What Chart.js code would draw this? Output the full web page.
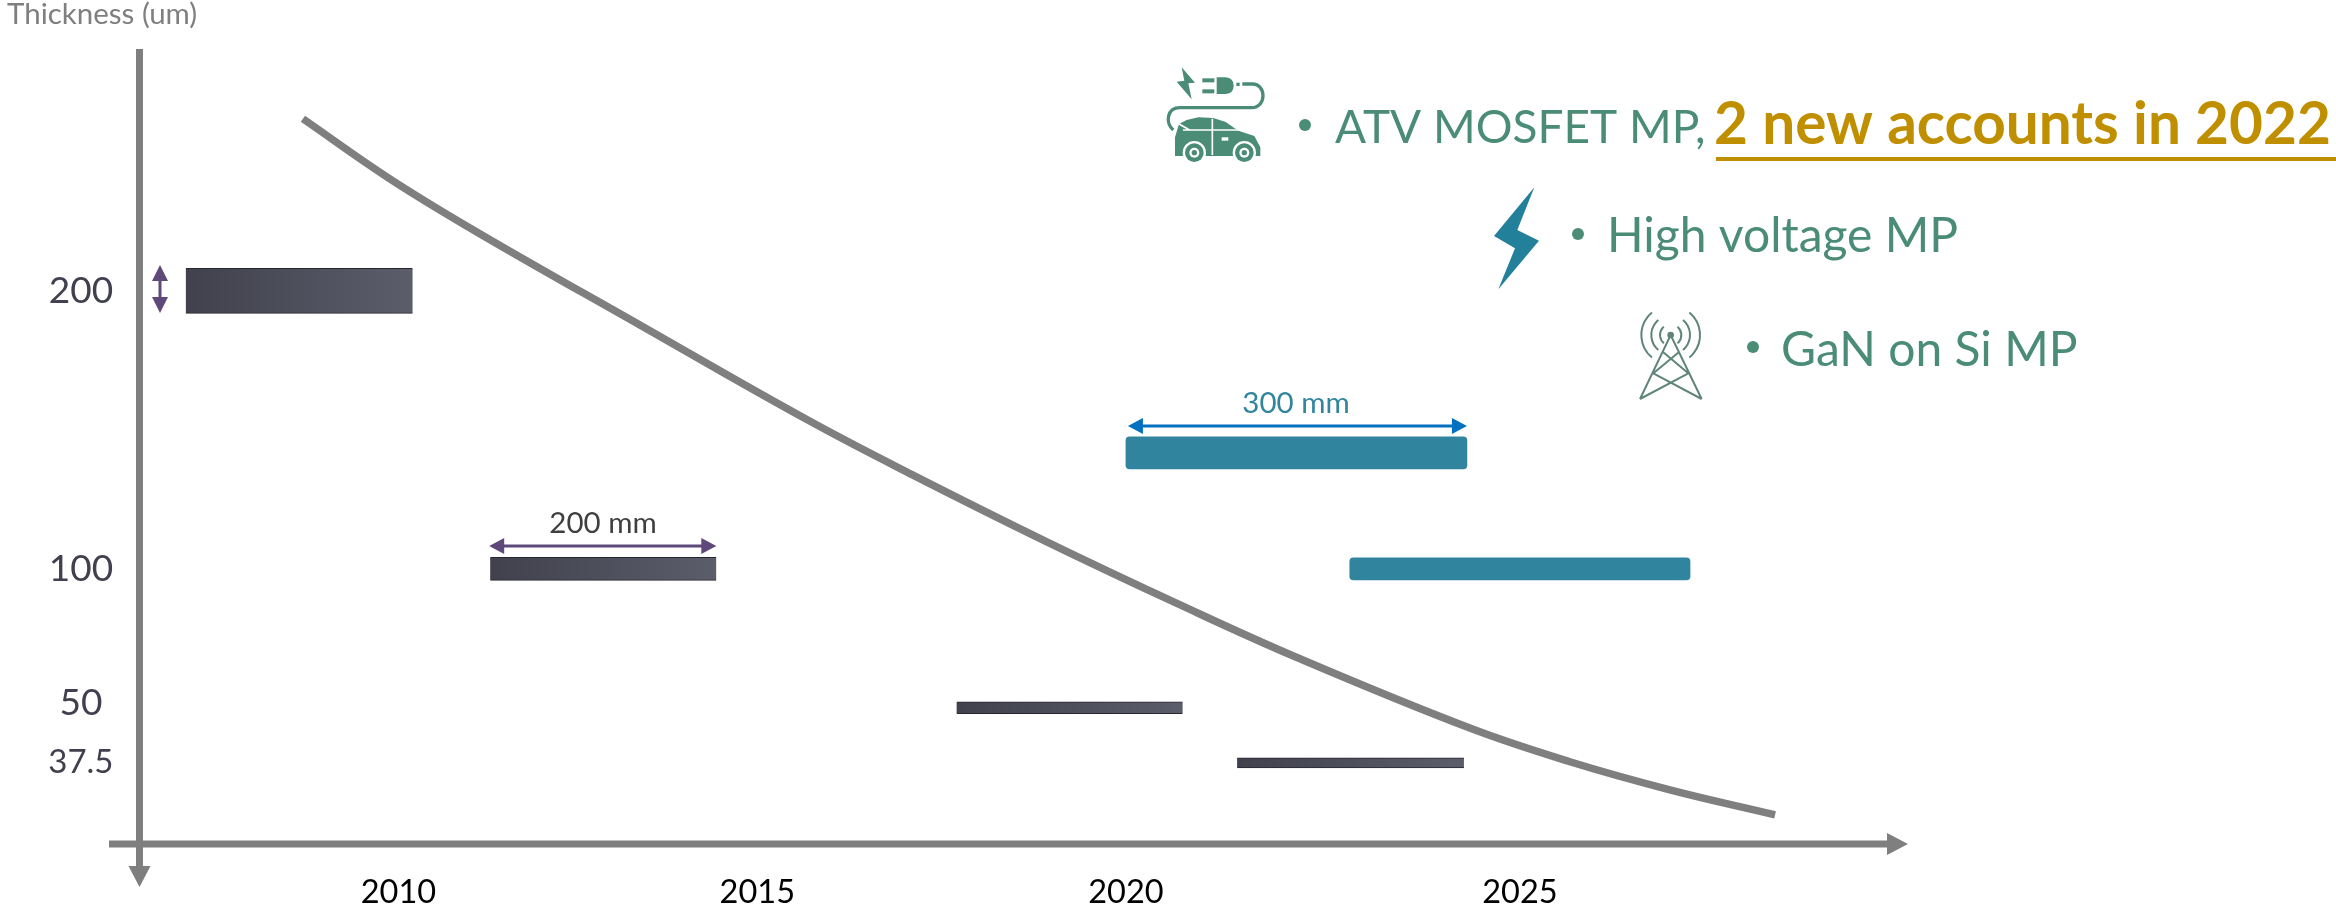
<!DOCTYPE html>
<html>
<head>
<meta charset="utf-8">
<title>Thickness roadmap</title>
<script src="https://cdn.jsdelivr.net/npm/chart.js@4"></script>
<style>
	html, body { margin: 0; padding: 0; background: #fff; }
	canvas { display: block; }
</style>
</head>
<body>
<canvas id="thicknessChart" width="2336" height="909"></canvas>
<script>
// thickness bars
var darkStart = [2007.12, 2011.2, 2017.45, 2021.21];
var darkEnd = [2010.16, 2014.23, 2020.48, 2024.25];
var darkRow = [200, 100, 50, 30.2];
var blueStart = [2019.72, 2022.72];
var blueEnd = [2024.29, 2027.28];
var blueRow = [141.7, 100];

// trend curve
var curveYear = [2008.69, 2009.85, 2011.02, 2013.2, 2015.45, 2016.86, 2018.66, 2020.44, 2022.02, 2024.32, 2025.67, 2027.01, 2028.42];
var curveThickness = [261.9, 240.4, 221.2, 187.8, 153.6, 133.8, 109.7, 87.1, 68, 42.8, 30.6, 20.5, 11.5];

// ticks (the picture does not space them evenly, so label and position are separate)
var xTickLabels = ['2010', '2015', '2020', '2025'];
var xTickPositions = [2009.97, 2014.78, 2019.72, 2025];
var yTickLabels = ['37.5', '50', '100', '200'];
var yTickPositions = [30.2, 51.8, 100, 200];

var GREY = '#7f7f7f';
var GREEN = '#4a8c75';
var PURPLE = '#5f497a';
var FONT = 'Lato, sans-serif';

var darkHeights = [45, 23, 12, 10];
var blueHeights = [32, 22];

function darkFill(context) {
	var chart = context.chart;
	var raw = context.raw;
	if (!chart.chartArea || !raw) return '#4a4b58';
	var x = chart.scales.x;
	var g = chart.ctx.createLinearGradient(x.getPixelForValue(raw.x[0]), 0, x.getPixelForValue(raw.x[1]), 0);
	g.addColorStop(0, '#40414d');
	g.addColorStop(1, '#5c5d6a');
	return g;
}

var datasets = [{
	type: 'line',
	label: 'Trend',
	data: curveYear.map(function (v, i) { return { x: v, y: curveThickness[i] }; }),
	borderColor: GREY,
	borderWidth: 7.5,
	pointRadius: 0,
	fill: false,
	tension: 0.4,
	borderCapStyle: 'butt'
}];

darkStart.forEach(function (v, i) {
	datasets.push({
		type: 'bar',
		label: 'Si ' + darkRow[i],
		indexAxis: 'y',
		grouped: false,
		barThickness: darkHeights[i],
		data: [{ x: [v, darkEnd[i]], y: darkRow[i] }],
		backgroundColor: darkFill,
		borderColor: '#26262e',
		borderWidth: { top: 1, bottom: 1, left: 0, right: 0 },
		borderSkipped: false
	});
});

blueStart.forEach(function (v, i) {
	datasets.push({
		type: 'bar',
		label: 'Blue ' + blueRow[i],
		indexAxis: 'y',
		grouped: false,
		barThickness: blueHeights[i],
		data: [{ x: [v, blueEnd[i]], y: blueRow[i] }],
		backgroundColor: '#31849d',
		borderRadius: 4,
		borderSkipped: false
	});
});

function poly(c, pts, color) {
	c.fillStyle = color;
	c.beginPath();
	pts.forEach(function (p, i) {
		if (i === 0) c.moveTo(p[0], p[1]); else c.lineTo(p[0], p[1]);
	});
	c.closePath();
	c.fill();
}

function hArrow(c, x0, x1, y, color) {
	c.fillStyle = color;
	c.fillRect(x0 + 10, y - 1.5, x1 - x0 - 20, 3);
	poly(c, [[x0, y], [x0 + 15, y - 8], [x0 + 15, y + 8]], color);
	poly(c, [[x1, y], [x1 - 15, y - 8], [x1 - 15, y + 8]], color);
}

function vArrow(c, x, y0, y1, color) {
	c.fillStyle = color;
	c.fillRect(x - 1.5, y0 + 10, 3, y1 - y0 - 20);
	poly(c, [[x, y0], [x - 8, y0 + 16], [x + 8, y0 + 16]], color);
	poly(c, [[x, y1], [x - 8, y1 - 16], [x + 8, y1 - 16]], color);
}

function text(c, str, x, y, font, color, align) {
	c.font = font;
	c.fillStyle = color;
	c.textAlign = align || 'left';
	c.textBaseline = 'alphabetic';
	c.fillText(str, x, y);
}

function bullet(c, x, y) {
	c.fillStyle = GREEN;
	c.beginPath();
	c.arc(x, y, 6, 0, Math.PI * 2);
	c.fill();
}

function drawCar(c) {
	c.save();
	c.translate(1155, 60);
	c.scale(1 / 3, 1 / 3);
	poly(c, [[80, 22], [120, 68], [100, 70], [110, 118], [65, 65], [88, 62]], GREEN);
	c.fillStyle = GREEN;
	c.fillRect(142, 55, 36, 12);
	c.fillRect(142, 88, 36, 12);
	c.beginPath();
	c.moveTo(185, 52);
	c.lineTo(212, 52);
	c.quadraticCurveTo(236, 54, 236, 77);
	c.quadraticCurveTo(236, 100, 212, 102);
	c.lineTo(185, 102);
	c.closePath();
	c.fill();
	c.fillRect(244, 68, 10, 10);
	c.strokeStyle = GREEN;
	c.lineWidth = 10;
	c.beginPath();
	c.moveTo(262, 72);
	c.lineTo(292, 72);
	c.bezierCurveTo(335, 72, 335, 143, 290, 143);
	c.lineTo(75, 143);
	c.bezierCurveTo(35, 143, 30, 190, 55, 210);
	c.stroke();
	// car body
	poly(c, [[60, 232], [72, 192], [95, 180], [130, 172], [175, 174], [212, 186], [250, 212], [298, 228], [316, 262], [316, 288], [60, 288]], GREEN);
	c.strokeStyle = '#fff';
	c.lineWidth = 5;
	c.beginPath();
	c.moveTo(84, 210); c.lineTo(250, 210);
	c.moveTo(172, 176); c.lineTo(172, 285);
	c.moveTo(72, 192); c.lineTo(104, 210);
	c.stroke();
	c.fillStyle = '#fff';
	c.fillRect(200, 232, 20, 10);
	[118, 268].forEach(function (x) {
		c.fillStyle = '#fff';
		c.beginPath(); c.arc(x, 278, 35, 0, Math.PI * 2); c.fill();
		c.fillStyle = GREEN;
		c.beginPath(); c.arc(x, 278, 28, 0, Math.PI * 2); c.fill();
		c.fillStyle = '#fff';
		c.beginPath(); c.arc(x, 278, 15, 0, Math.PI * 2); c.fill();
		c.fillStyle = GREEN;
		c.beginPath(); c.arc(x, 278, 8, 0, Math.PI * 2); c.fill();
	});
	c.restore();
}

function drawBolt(c) {
	c.save();
	c.translate(1480, 180);
	c.scale(1 / 3, 1 / 3);
	poly(c, [[163, 22], [112, 150], [177, 182], [55, 328], [105, 205], [42, 168]], '#23809b');
	c.restore();
}

function drawTower(c) {
	var col = '#5f8577';
	c.save();
	c.translate(1630, 305);
	c.scale(1 / 3, 1 / 3);
	c.strokeStyle = col;
	c.lineWidth = 6;
	c.beginPath();
	c.moveTo(30, 282); c.lineTo(122, 90); c.lineTo(215, 282);
	c.moveTo(148, 140); c.lineTo(70, 205); c.lineTo(215, 282);
	c.moveTo(98, 140); c.lineTo(175, 205); c.lineTo(30, 282);
	c.stroke();
	[32, 58, 88].forEach(function (r) {
		c.beginPath(); c.arc(122, 90, r, Math.PI * 0.72, Math.PI * 1.28); c.stroke();
		c.beginPath(); c.arc(122, 90, r, -Math.PI * 0.28, Math.PI * 0.28); c.stroke();
	});
	c.fillStyle = col;
	c.beginPath(); c.arc(122, 90, 10, 0, Math.PI * 2); c.fill();
	c.restore();
}

var extras = {
	id: 'extras',
	afterDraw: function (chart) {
		var c = chart.ctx;
		var a = chart.chartArea;
		var sx = chart.scales.x;
		c.save();

		// axis lines run past the plot area and end in arrow heads
		c.fillStyle = GREY;
		c.fillRect(109, a.bottom - 3.5, a.right - 109, 7);
		c.fillRect(a.left - 3.5, a.top, 7, 866 - a.top);
		poly(c, [[a.right - 3, a.bottom - 11], [a.right + 18, a.bottom], [a.right - 3, a.bottom + 11]], GREY);
		poly(c, [[a.left - 11, 866], [a.left + 11, 866], [a.left, 887]], GREY);

		text(c, 'Thickness (um)', 7, 24, '29.5px ' + FONT, GREY);

		// dimension arrows follow the bars they measure
		vArrow(c, 160, 265, 313, PURPLE);
		hArrow(c, sx.getPixelForValue(darkStart[1]) - 1, sx.getPixelForValue(darkEnd[1]), 546, PURPLE);
		text(c, '200 mm', 603, 533, '29.5px ' + FONT, '#3f3f3f', 'center');
		hArrow(c, sx.getPixelForValue(blueStart[0]) + 2, sx.getPixelForValue(blueEnd[0]), 426, '#0070c0');
		text(c, '300 mm', 1296, 413, '29.5px ' + FONT, '#31859c', 'center');

		drawCar(c);
		drawBolt(c);
		drawTower(c);

		bullet(c, 1305, 125);
		text(c, 'ATV MOSFET MP,', 1335, 143, '46px ' + FONT, GREEN);
		text(c, '2 new accounts in 2022', 1714, 144, 'bold 58.5px ' + FONT, '#bf8f00');
		c.fillStyle = '#bf8f00';
		c.fillRect(1716, 157, 620, 4);

		bullet(c, 1578, 234);
		text(c, 'High voltage MP', 1607, 252, '48px ' + FONT, GREEN);
		bullet(c, 1753, 347);
		text(c, 'GaN on Si MP', 1781, 366, '48px ' + FONT, GREEN);

		c.restore();
	}
};

new Chart(document.getElementById('thicknessChart'), {
	type: 'bar',
	data: { datasets: datasets },
	plugins: [extras],
	options: {
		responsive: false,
		animation: false,
		layout: { padding: { top: 49, right: 446, bottom: 0, left: 0 } },
		plugins: {
			legend: { display: false },
			tooltip: { enabled: false },
			title: { display: false }
		},
		scales: {
			x: {
				type: 'linear',
				offset: false,
				min: 2006.5,
				max: 2029.96,
				grid: { display: false, drawTicks: false },
				border: { display: false },
				afterFit: function (s) { s.height = 65; },
				afterBuildTicks: function (s) {
					s.ticks = xTickPositions.map(function (v) { return { value: v }; });
				},
				ticks: {
					autoSkip: false,
					maxRotation: 0,
					padding: 29,
					color: '#000',
					font: { family: FONT, size: 32.5 },
					callback: function (value, index) { return xTickLabels[index]; }
				}
			},
			y: {
				type: 'linear',
				offset: false,
				min: 1,
				max: 287,
				grid: { display: false, drawTicks: false },
				border: { display: false },
				afterFit: function (s) { s.width = 139.5; },
				afterBuildTicks: function (s) {
					s.ticks = yTickPositions.map(function (v) { return { value: v }; });
				},
				ticks: {
					autoSkip: false,
					crossAlign: 'center',
					padding: 26,
					color: '#40404f',
					font: function (context) {
						return { family: FONT, size: context.index === 0 ? 33 : 37 };
					},
					callback: function (value, index) { return yTickLabels[index]; }
				}
			}
		}
	}
});
</script>
</body>
</html>
